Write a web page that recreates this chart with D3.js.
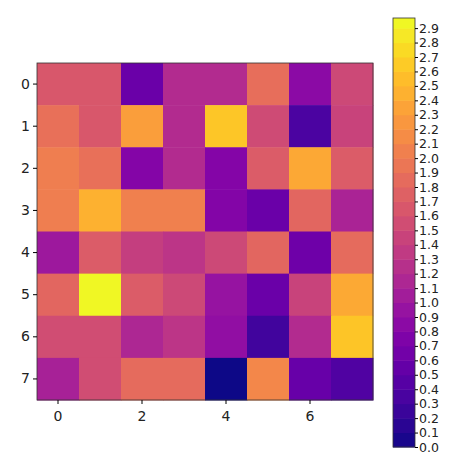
<!DOCTYPE html><html><head><script src="https://d3js.org/d3.v7.min.js"></script>
<style>body{margin:0;background:#fff}text{font-family:"DejaVu Sans";}</style></head><body><svg width="474" height="474"></svg>
<script>
const rows=[0,1,2,3,4,5,6,7];
const cols=[0,1,2,3,4,5,6,7];
const values=[
[1.65,1.65,0.6,1.2,1.2,1.87,0.85,1.5],
[1.9,1.65,2.3,1.2,2.62,1.52,0.37,1.45],
[2.02,1.9,0.8,1.2,0.8,1.7,2.38,1.7],
[2.02,2.45,2.05,2.05,0.78,0.6,1.8,1.12],
[1.0,1.7,1.4,1.3,1.5,1.8,0.62,1.85],
[1.8,2.95,1.7,1.5,0.95,0.6,1.45,2.4],
[1.55,1.55,1.15,1.3,0.9,0.3,1.2,2.6],
[1.1,1.55,1.85,1.85,0.0,2.1,0.58,0.4]];
const xTicks=[0,2,4,6];
const cbTicks=d3.range(0,30).map(i=>i/10);
const vmin=0,vmax=2.97;
const svg=d3.select("svg");
const color=d3.scaleSequential(d3.interpolatePlasma).domain([vmin,vmax]);
const x=d3.scaleBand().domain(cols).range([37,373]);
const y=d3.scaleBand().domain(rows).range([63,400]);
const g=svg.append("g");
values.forEach((r,i)=>r.forEach((v,j)=>g.append("rect").attr("x",x(j)).attr("y",y(i)).attr("width",x.bandwidth()+0.5).attr("height",y.bandwidth()+0.5).attr("fill",color(v))));
svg.append("rect").attr("x",37).attr("y",63).attr("width",336).attr("height",337).attr("fill","none").attr("stroke","#333").attr("stroke-width",0.8);
const xa=svg.append("g").attr("transform","translate(0,400)").call(d3.axisBottom(x).tickValues(xTicks).tickSize(4));
const ya=svg.append("g").attr("transform","translate(37,0)").call(d3.axisLeft(y).tickSize(4));
[xa,ya].forEach(a=>{a.select(".domain").remove();a.selectAll("text").attr("font-size",14).attr("fill","#222");});
xa.selectAll("text").attr("dy","1em");
// colorbar
const cy=d3.scaleLinear().domain([vmin,vmax]).range([447,18]);
const cb=svg.append("g");
const steps=d3.range(0,30).map(i=>i*0.1);
steps.forEach(s=>{const e=Math.min(s+0.1,vmax);cb.append("rect").attr("x",393).attr("y",cy(e)).attr("width",22).attr("height",cy(s)-cy(e)+0.5).attr("fill",color(s+0.05));});
cb.append("rect").attr("x",393).attr("y",18).attr("width",22).attr("height",429).attr("fill","none").attr("stroke","#333").attr("stroke-width",0.8);
const ca=svg.append("g").attr("transform","translate(415,0)").call(d3.axisRight(cy).tickValues(cbTicks).tickFormat(d3.format(".1f")).tickSize(3));
ca.select(".domain").remove();
ca.selectAll("text").attr("font-size",12.5).attr("fill","#222").attr("x",4);
</script></body></html>
